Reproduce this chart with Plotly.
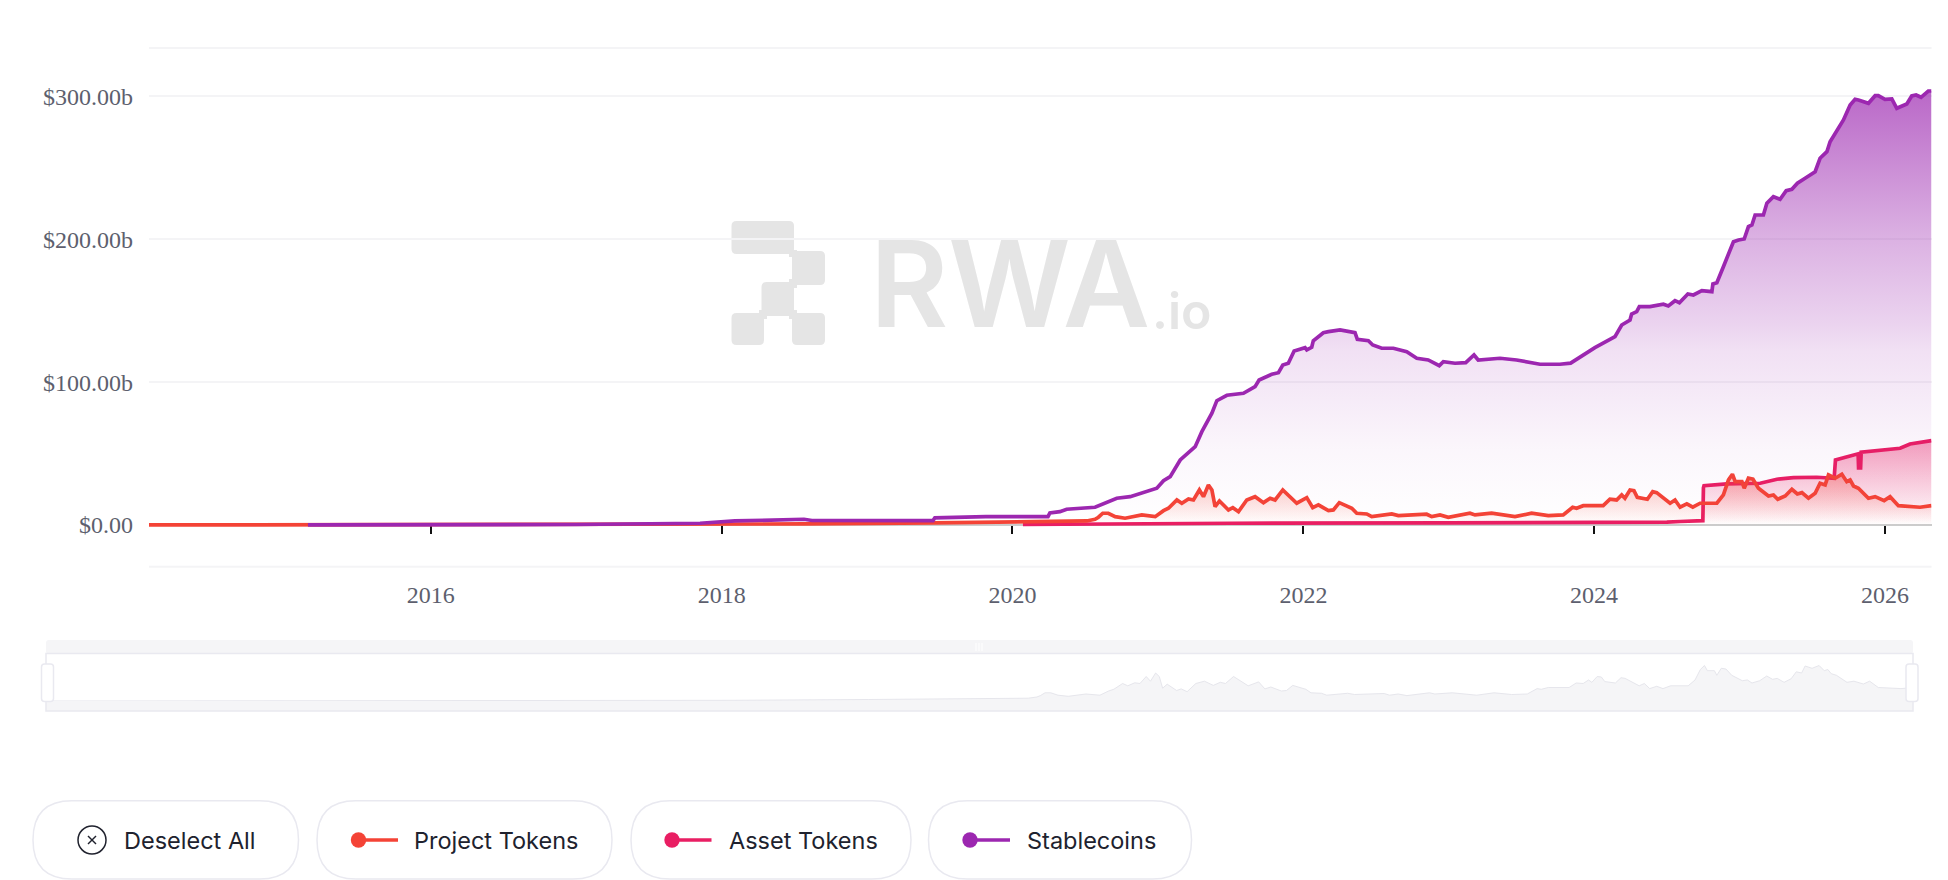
from datetime import datetime
import plotly.graph_objects as go

# ---------- data (time in decimal years, values in $ billions) ----------
stable_t = [2015.154,2016.997,2017.85,2018.008,2018.09,2018.565,2018.62,2019.453,2019.466,2019.817,2020.244,2020.257,2020.326,2020.372,2020.567,2020.716,2020.808,2020.991,2021.037,2021.083,2021.152,2021.255,2021.301,2021.370,2021.404,2021.473,2021.587,2021.667,2021.695,2021.782,2021.828,2021.858,2021.896,2021.936,2022.011,2022.023,2022.057,2022.068,2022.137,2022.172,2022.252,2022.355,2022.371,2022.447,2022.477,2022.539,2022.619,2022.711,2022.780,2022.859,2022.935,2022.963,2023.043,2023.117,2023.174,2023.203,2023.353,2023.467,2023.628,2023.765,2023.839,2024.006,2024.144,2024.190,2024.247,2024.258,2024.293,2024.311,2024.384,2024.476,2024.510,2024.556,2024.586,2024.644,2024.682,2024.740,2024.809,2024.816,2024.843,2024.888,2024.905,2024.957,2024.992,2025.031,2025.060,2025.084,2025.106,2025.163,2025.187,2025.232,2025.278,2025.320,2025.359,2025.397,2025.450,2025.519,2025.553,2025.600,2025.622,2025.668,2025.714,2025.760,2025.794,2025.817,2025.886,2025.932,2025.954,2026.0,2026.047,2026.081,2026.150,2026.184,2026.214,2026.248,2026.298,2026.320]
stable_v = [0,0.3,1.2,2.3,2.8,4.0,3.1,3.0,4.9,5.8,5.8,8.4,9.3,11.0,12.4,18.7,19.8,25.7,31.0,33.8,45.5,54.8,65.3,78.2,87.0,90.8,92.2,96.8,101.5,105.5,106.6,112,113.2,121.8,124.1,122.5,124.4,129,134.6,135.3,136.5,134.6,130,129,126,123.7,123.7,121.3,116.7,115.5,111.5,114.3,113.2,113.6,119,115.5,116.7,115.5,112.5,112.5,113.3,124.1,131.8,140,143.5,147.7,149.3,152.8,152.8,154.5,153.3,157,155.6,161.7,161,164,163.3,168.7,169.6,180.8,185.5,198.3,199.5,200.2,208.8,210,217,217,225.2,229.8,228,234,235,239.2,242.7,247.3,256.7,261.3,268.3,276.5,283.5,294,298,297.5,295.2,300.5,300.5,298,298.2,291.7,294.7,300.3,301,299.4,303.8,303.8]

project_t = [2014.060,2016.47,2017.85,2018.565,2019.46,2020.244,2020.326,2020.510,2020.567,2020.590,2020.620,2020.658,2020.705,2020.773,2020.888,2020.980,2021.037,2021.071,2021.129,2021.163,2021.209,2021.243,2021.284,2021.312,2021.346,2021.370,2021.392,2021.422,2021.484,2021.514,2021.553,2021.610,2021.667,2021.725,2021.771,2021.805,2021.858,2021.954,2022.023,2022.064,2022.103,2022.172,2022.206,2022.247,2022.333,2022.367,2022.436,2022.470,2022.608,2022.653,2022.848,2022.883,2022.940,2022.997,2023.146,2023.181,2023.295,2023.456,2023.570,2023.685,2023.788,2023.853,2023.880,2023.926,2024.063,2024.109,2024.155,2024.190,2024.212,2024.247,2024.274,2024.297,2024.366,2024.403,2024.430,2024.522,2024.556,2024.591,2024.637,2024.678,2024.728,2024.843,2024.888,2024.923,2024.950,2024.969,2025.015,2025.031,2025.060,2025.091,2025.129,2025.198,2025.232,2025.262,2025.313,2025.359,2025.397,2025.428,2025.473,2025.519,2025.553,2025.588,2025.611,2025.657,2025.703,2025.737,2025.760,2025.783,2025.817,2025.886,2025.932,2025.994,2026.035,2026.092,2026.241,2026.320]
project_v = [0,0.2,0.6,0.7,1.5,2.0,2.3,2.8,4,5.4,8.2,8.2,5.8,4.7,7,5.8,10,11.7,17.5,15.2,18.2,17.5,24.5,19.8,28,24.5,12.8,16.8,10.5,12.1,9.3,17.5,19.8,15.6,18.7,17.5,24.5,15.2,19.1,12.1,14,10,10.5,15.6,11.7,8.2,7.7,5.8,7.7,6.5,7.5,5.8,7,5.4,8.2,7,8.2,5.8,8.2,6.5,7,12.4,11.7,13.5,13.5,18,17.5,21,18.7,24.5,24,19.4,18,23.3,22.6,15.2,17.5,12.4,14.7,12.4,15.2,15.2,21,31.5,35.5,30.3,30.3,25.7,32.7,32,25.7,20.3,21,18,20.3,25,21.7,22.6,18.7,22.2,29.2,28,35,32.7,35.5,30.3,31.5,27.3,25.7,18.7,19.8,17,19.8,13.5,12.4,13.5]

asset_t = [2020.072,2020.6,2021.5,2023.0,2024.0,2024.5,2024.591,2024.72,2024.747,2024.751,2024.755,2024.912,2025.141,2025.256,2025.370,2025.531,2025.650,2025.659,2025.794,2025.815,2025.818,2025.832,2025.836,2026.058,2026.104,2026.172,2026.253,2026.320]
asset_v = [0.3,0.8,1.2,1.4,1.6,2.0,2.4,3.0,3.0,26,27.5,28.7,29.2,32,33.1,33.4,32.7,45.5,49.5,49.8,40,40,50.9,53,53.7,56.7,57.9,59]

y_ticks = [0, 100, 200, 300]
y_labels = ["$0.00", "$100.00b", "$200.00b", "$300.00b"]
x_years = [2016, 2018, 2020, 2022, 2024, 2026]
pill_names = ["Project Tokens", "Asset Tokens", "Stablecoins"]

# ---------- style ----------
W, H = 1948, 880
ORANGE, PINK, PURPLE = "#F44336", "#E91E63", "#9C27B0"
GRID = "#f4f4f6"
BORDER = "#e9e9f0"
BAND = "#f5f5f7"
INK = "#20222e"
WM = "#e5e5e5"
SERIF = "Liberation Serif"
SANS = "Inter"
Y_MIN, Y_MAX = -29.3, 333.9
LW = 3.7


def X(px):
    return px / W


def Y(py):
    return 1 - py / H


def iso(dec):
    year = int(dec)
    start = datetime(year, 1, 1)
    end = datetime(year + 1, 1, 1)
    return (start + (end - start) * (dec - year)).strftime("%Y-%m-%d %H:%M")


def rrect(x0, y0, x1, y1, r, **kw):
    r = min(r, (x1 - x0) / 2, (y1 - y0) / 2)
    c = lambda a, b: f"{X(a):.6f},{Y(b):.6f}"
    p = (
        f"M{c(x0+r,y0)} L{c(x1-r,y0)} Q{c(x1,y0)} {c(x1,y0+r)} "
        f"L{c(x1,y1-r)} Q{c(x1,y1)} {c(x1-r,y1)} L{c(x0+r,y1)} "
        f"Q{c(x0,y1)} {c(x0,y1-r)} L{c(x0,y0+r)} Q{c(x0,y0)} {c(x0+r,y0)} Z"
    )
    return dict(type="path", path=p, xref="paper", yref="paper", **kw)


def seg(x0, y0, x1, y1, color, width, layer="above"):
    return dict(type="line", xref="paper", yref="paper", x0=X(x0), y0=Y(y0), x1=X(x1), y1=Y(y1),
                line=dict(color=color, width=width), layer=layer)


def grad(rgb, stops, top):
    return dict(type="vertical", start=0, stop=top,
                colorscale=[[p, f"rgba({rgb},{a})"] for p, a in stops])


fig = go.Figure()
fig.add_trace(go.Scatter(x=[iso(t) for t in asset_t], y=asset_v, mode="lines", name="Asset Tokens",
                         line=dict(color=PINK, width=LW), fill="tozeroy",
                         fillgradient=grad("233,30,99", [[0, 0], [1, 0.42]], 59)))
fig.add_trace(go.Scatter(x=[iso(t) for t in project_t], y=project_v, mode="lines", name="Project Tokens",
                         line=dict(color=ORANGE, width=LW), fill="tozeroy",
                         fillgradient=grad("244,67,54", [[0, 0], [1, 0.34]], 35.5)))
fig.add_trace(go.Scatter(x=[iso(t) for t in stable_t], y=stable_v, mode="lines", name="Stablecoins",
                         line=dict(color=PURPLE, width=LW), fill="tozeroy",
                         fillgradient=grad("156,39,176",
                                           [[0, 0], [0.17, 0.04], [0.40, 0.14], [0.46, 0.2], [0.66, 0.36], [1, 0.7]],
                                           304)))
# overview strip
fig.add_trace(go.Scatter(x=[iso(t) for t in project_t], y=project_v, mode="lines", name="Overview",
                         xaxis="x2", yaxis="y2", line=dict(color="#e6e6ec", width=1),
                         fill="tozeroy", fillcolor=BAND))

shapes = []
# frame gridlines at the top and bottom of the plot area
shapes.append(seg(149, 48, 1931.5, 48, GRID, 2, "below"))
shapes.append(seg(149, 566.8, 1931.5, 566.8, GRID, 2, "below"))

# watermark logo
for (x0, y0, x1, y1) in [(731.5, 221, 794, 254), (792, 251, 825, 285), (761.5, 282, 794, 316),
                         (731.5, 313, 764, 345), (792, 313, 825, 345)]:
    shapes.append(rrect(x0, y0, x1, y1, 5, fillcolor=WM, line=dict(width=0), layer="below"))
for (x0, y0, x1, y1) in [(789, 250, 797, 257), (789, 279, 797, 288), (759, 310, 767, 319), (789, 310, 797, 319)]:
    shapes.append(rrect(x0, y0, x1, y1, 0.01, fillcolor=WM, line=dict(width=0), layer="below"))

# overview frame
shapes.append(rrect(46, 640, 1913, 654, 3, fillcolor=BAND, line=dict(width=0), layer="below"))
shapes.append(dict(type="rect", xref="paper", yref="paper", x0=X(46), x1=X(1913), y0=Y(701), y1=Y(711),
                   fillcolor=BAND, line=dict(width=0), layer="below"))
shapes.append(dict(type="rect", xref="paper", yref="paper", x0=X(46), x1=X(1913), y0=Y(653.5), y1=Y(711),
                   fillcolor="rgba(0,0,0,0)", line=dict(color=BORDER, width=1.5), layer="above"))
for gx in (976, 979, 982):
    shapes.append(seg(gx, 643, gx, 651, "#ffffff", 1))
for hx in (41.5, 1906):
    shapes.append(rrect(hx, 664, hx + 12, 701.5, 3, fillcolor="#ffffff", line=dict(color=BORDER, width=1.5), layer="above"))

# pills
pills = [(33, 298.5), (317, 612), (631, 911), (928.5, 1191.5)]
for x0, x1 in pills:
    shapes.append(rrect(x0, 800.7, x1, 879, 39, fillcolor="#ffffff", line=dict(color=BORDER, width=1.5), layer="above"))

# deselect icon
shapes.append(dict(type="circle", xref="paper", yref="paper", x0=X(78), x1=X(106), y0=Y(826), y1=Y(854),
                   line=dict(color=INK, width=1.5), layer="above"))
shapes.append(seg(88, 836, 96, 844, INK, 1.5))
shapes.append(seg(96, 836, 88, 844, INK, 1.5))

# legend glyphs
glyphs = [(358.5, 398, ORANGE), (672, 711.5, PINK), (970, 1010, PURPLE)]
for cx, end, col in glyphs:
    shapes.append(seg(cx, 840, end, 840, col, 3.5))
    shapes.append(dict(type="circle", xref="paper", yref="paper", x0=X(cx - 7.7), x1=X(cx + 7.7),
                       y0=Y(832.3), y1=Y(847.7), fillcolor=col, line=dict(width=0), layer="above"))

annotations = [
    dict(text="RWA", x=X(868), y=Y(283.5), xref="paper", yref="paper", xanchor="left", yanchor="middle",
         showarrow=False, font=dict(family=SANS, size=120, color=WM, weight=600)),
    dict(text=".io", x=X(1150), y=Y(311), xref="paper", yref="paper", xanchor="left", yanchor="middle",
         showarrow=False, font=dict(family=SANS, size=50, color=WM, weight=600)),
]
labels = [("Deselect All", 121.5)] + list(zip(pill_names, (411.5, 727, 1024.5)))
for txt, px in labels:
    annotations.append(dict(text=txt, x=X(px), y=Y(840), xref="paper", yref="paper", xanchor="left",
                            yanchor="middle", showarrow=False, font=dict(family=SANS, size=23.5, color=INK)))

X_RANGE = [iso(2014.060), iso(2026.320)]
fig.update_layout(
    width=W, height=H, showlegend=False, paper_bgcolor="#ffffff", plot_bgcolor="#ffffff",
    margin=dict(l=0, r=0, t=0, b=0, pad=0, autoexpand=False),
    shapes=shapes, annotations=annotations, hovermode=False,
    xaxis=dict(domain=[X(149), X(1931.5)], type="date", range=X_RANGE, anchor="free", position=Y(525),
               tickmode="array", tickvals=[f"{yr}-01-01" for yr in x_years], ticktext=[str(yr) for yr in x_years],
               ticks="outside", ticklen=8, tickwidth=2, tickcolor="#111111", showgrid=False, zeroline=False,
               showline=True, linecolor="#cccccc", linewidth=2, ticklabelstandoff=40, layer="below traces",
               tickfont=dict(family=SERIF, size=24, color="#5d5f6e")),
    yaxis=dict(domain=[Y(566.8), Y(48)], range=[Y_MIN, Y_MAX], tickmode="array",
               tickvals=y_ticks, ticktext=y_labels,
               showgrid=True, gridcolor=GRID, gridwidth=2, zeroline=False, showline=False, ticks="",
               ticklabelstandoff=15, tickfont=dict(family=SERIF, size=24, color="#5d5f6e")),
    xaxis2=dict(domain=[X(46), X(1913)], type="date", range=X_RANGE, anchor="y2", visible=False),
    yaxis2=dict(domain=[Y(701), Y(653)], range=[0, 48], anchor="x2", visible=False),
)

fig.write_html("out.html", config=dict(displayModeBar=False),
               post_script="document.body.style.margin='0';document.documentElement.style.overflow='hidden';")
